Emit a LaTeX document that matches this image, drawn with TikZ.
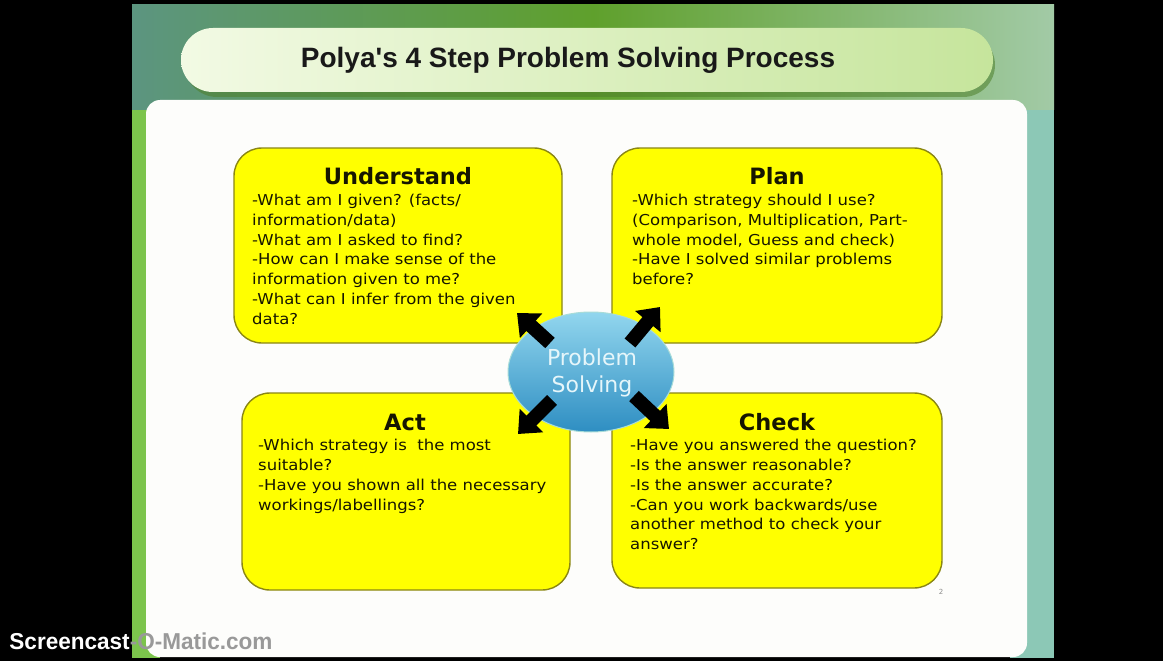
\documentclass[tikz,border=0pt]{standalone}
\usepackage{fontspec}
\setmainfont{DejaVu Sans}
\newfontfamily\bodyfont[FakeStretch=1.1]{DejaVu Sans}
\newfontfamily\titlefont{Liberation Sans}
\usetikzlibrary{arrows.meta,shapes.geometric}
\definecolor{boxyellow}{HTML}{FFFF00}
\definecolor{boxedge}{HTML}{8A8614}
\definecolor{panelwhite}{HTML}{FDFDFB}
\definecolor{bgleft}{HTML}{5C9580}
\definecolor{bgmid}{HTML}{5FA02C}
\definecolor{bgright}{HTML}{A2CAA6}
\definecolor{stripL}{HTML}{7CC44C}
\definecolor{stripR}{HTML}{8CC8B6}
\definecolor{pillL}{HTML}{F2FAE4}
\definecolor{pillR}{HTML}{C6E59C}
\definecolor{pillshadow}{HTML}{4E7F2A}
\definecolor{ellTop}{HTML}{92D6EE}
\definecolor{ellBot}{HTML}{2E8EC2}
\definecolor{ellEdge}{HTML}{A8DCD8}
\definecolor{ellText}{HTML}{E6F6FA}
\definecolor{inktext}{HTML}{161600}
\tikzset{
  stepbox/.style={draw=boxedge, line width=1.4pt, fill=boxyellow, rounded corners=28pt, inner sep=0pt},
  heading/.style={font=\bfseries\fontsize{22.5}{26}\selectfont, text=inktext, inner sep=0pt},
  body/.style={font=\bodyfont\fontsize{15}{19.8}\selectfont, text=inktext, align=left, inner sep=0pt, anchor=north west},
  bigarrow/.style={line width=14pt, black, -{Triangle[width=32pt,length=19pt]}},
  wmark/.style={font=\titlefont\bfseries\fontsize{23}{26}\selectfont, anchor=west, xscale=0.98},
}
\begin{document}
\begin{tikzpicture}[x=1pt,y=-1pt]
\useasboundingbox (0,0) rectangle (1163,661);
\fill[black] (0,0) rectangle (1163,661);
% slide background
\fill[stripL] (132,90) rectangle (160,658);
\fill[stripR] (1010,90) rectangle (1054,658);
\shade[left color=bgleft, right color=bgright, middle color=bgmid] (132,5) rectangle (1054,110);
% white panel
\fill[panelwhite, rounded corners=14pt] (146,100) rectangle (1027,657);
% title pill
\fill[pillshadow, opacity=0.55, rounded corners=32pt] (185,33) rectangle (995,97);
\shade[left color=pillL, right color=pillR, rounded corners=32pt] (181,28) rectangle (993,92);
\node[font=\titlefont\bfseries\fontsize{28}{32}\selectfont, text=black!90] (title) at (568,60) {Polya's 4 Step Problem Solving Process};
% boxes
\node[stepbox, minimum width=328pt, minimum height=195pt] (und) at (398,245.5) {};
\node[stepbox, minimum width=330pt, minimum height=195pt] (plan) at (777,245.5) {};
\node[stepbox, minimum width=328pt, minimum height=197pt] (act) at (406,491.5) {};
\node[stepbox, minimum width=330pt, minimum height=195pt] (check) at (777,490.5) {};
% headings
\node[heading] (undH) at (398,176) {Understand};
\node[heading] (planH) at (777,176) {Plan};
\node[heading] (actH) at (405,422) {Act};
\node[heading] (checkH) at (777,422) {Check};
% body texts
\node[body] (undT) at (252,194) {-What am I given? (facts/\\information/data)\\-What am I asked to find?\\-How can I make sense of the\\information given to me?\\-What can I infer from the given\\data?};
\node[body] (planT) at (632,194) {-Which strategy should I use?\\(Comparison, Multiplication, Part-\\whole model, Guess and check)\\-Have I solved similar problems\\before?};
\node[body] (actT) at (258,439) {-Which strategy is\ \ the most\\suitable?\\-Have you shown all the necessary\\workings/labellings?};
\node[body] (checkT) at (630,439) {-Have you answered the question?\\-Is the answer reasonable?\\-Is the answer accurate?\\-Can you work backwards/use\\another method to check your\\answer?};
% centre ellipse
\node[ellipse, minimum width=166pt, minimum height=120pt, top color=ellTop, bottom color=ellBot, draw=ellEdge, line width=1pt] (ps) at (591,372) {};
\node[font=\fontsize{22}{27}\selectfont, text=ellText, align=center] (psT) at (592,373) {Problem\\Solving};
% arrows
\coordinate (nwA) at (550,343); \coordinate (nwB) at (517,313);
\coordinate (neA) at (630,343); \coordinate (neB) at (660,307);
\coordinate (swA) at (552,400); \coordinate (swB) at (518,434);
\coordinate (seA) at (634,396); \coordinate (seB) at (669,429);
\draw[bigarrow] (nwA) -- (nwB);
\draw[bigarrow] (neA) -- (neB);
\draw[bigarrow] (swA) -- (swB);
\draw[bigarrow] (seA) -- (seB);
% page number
\node[font=\fontsize{7}{8}\selectfont, text=black!45] (pg) at (941,592) {2};
% watermark
\node[wmark] (wm) at (6,641) {\textcolor{white}{Screencast}\textcolor{black!40}{-O-Matic.com}};
\end{tikzpicture}
\end{document}
